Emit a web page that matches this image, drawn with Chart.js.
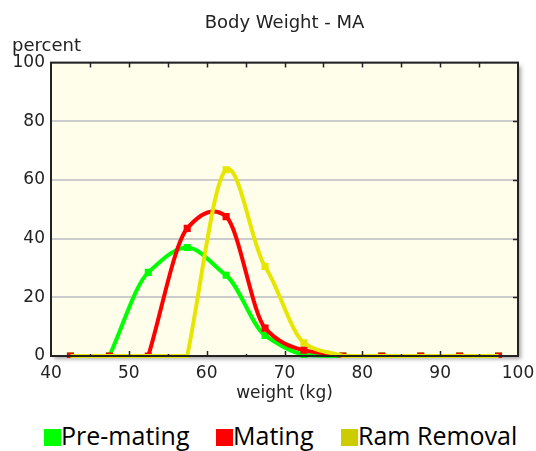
<!DOCTYPE html>
<html>
<head>
<meta charset="utf-8">
<script src="https://cdn.jsdelivr.net/npm/chart.js@4"></script>
<style>
  html, body { margin: 0; padding: 0; background: #fff; }
  #wrap { position: relative; width: 536px; height: 451px; }
  #chart { position: absolute; left: 0; top: 0; }
  .leg { position: absolute; top: 420px; font-family: "Open Sans", sans-serif; font-size: 25px; color: #000; white-space: nowrap; line-height: 30px; }
  .leg i { display: inline-block; width: 17px; height: 17px; vertical-align: -1px; }
</style>
</head>
<body>
<div id="wrap">
  <canvas id="chart" width="536" height="410"></canvas>
  <div class="leg" style="left:44px"><i style="background:#00ff00"></i>Pre-mating</div>
  <div class="leg" style="left:216px"><i style="background:#ff0000"></i>Mating</div>
  <div class="leg" style="left:341px"><i style="background:#cccc00"></i>Ram Removal</div>
</div>
<script>
// bin centres (kg) and percent of flock in each bin
const weights    = [42.5, 47.5, 52.5, 57.5, 62.5, 67.5, 72.5, 77.5, 82.5, 87.5, 92.5, 97.5];
const preMating  = [0, 0, 28.5, 37, 27.5, 7, 0.5, 0, 0, 0, 0, 0];
const mating     = [0, 0, 0, 43.5, 47.5, 9.5, 2, 0, 0, 0, 0, 0];
const ramRemoval = [0, 0, 0, 0, 63.5, 30.5, 4.5, 0, 0, 0, 0, 0];
const xTicks = [40, 50, 60, 70, 80, 90, 100];
const yTicks = [0, 20, 40, 60, 80, 100];

const font = { family: 'DejaVu Sans', size: 17, weight: 'normal' };
const bigFont = { family: 'DejaVu Sans', size: 18, weight: 'normal' };

function toPoints(vals) {
    return weights.map((w, i) => ({ x: w, y: vals[i] }));
}

function series(label, vals, color, order) {
    return {
        label: label,
        data: toPoints(vals),
        order: order,
        borderColor: color,
        backgroundColor: color,
        borderWidth: 4,
        pointRadius: 5,
        pointStyle: 'rect',
        pointBorderWidth: 0,
        tension: 0.35,
        clip: { left: 6, right: 6, top: 6, bottom: 2 },
        fill: false
    };
}

const ramSeries = series('Ram Removal', ramRemoval, '#e6e600', 1);
// ram removal markers on the zero line are not drawn in the original
ramSeries.pointRadius = c => (c.raw && c.raw.y > 0 ? 5 : 0);

// the original uses a cardinal spline (uniform in x) that leaves the zero
// line in a straight kink; swap chart.js' control points for those
const cardinal = {
    id: 'cardinal',
    beforeDatasetDraw(chart, args) {
        const line = args.meta.dataset;
        if (!line) return;
        line.updateControlPoints(chart.chartArea, 'x');
        const pts = line.points;
        const raw = chart.data.datasets[args.index].data;
        const n = pts.length;
        const k = 0.65;
        const chord = (i, j) => (pts[j].y - pts[i].y) / (pts[j].x - pts[i].x);
        const central = i => k * chord(Math.max(i - 1, 0), Math.min(i + 1, n - 1));
        // slope of the handle at point i pointing towards neighbour j
        const handle = (i, j) => (raw[i].y === 0 ? chord(i, j) : central(i));
        for (let i = 0; i < n - 1; i++) {
            const p = pts[i], q = pts[i + 1], h = q.x - p.x;
            p.cp2x = p.x + h / 3; p.cp2y = p.y + handle(i, i + 1) * h / 3;
            q.cp1x = q.x - h / 3; q.cp1y = q.y - handle(i + 1, i) * h / 3;
        }
        delete line._path;
    }
};

// plot background with a soft drop shadow, frame and inward tick marks
const plotFrame = {
    id: 'plotFrame',
    beforeDraw(chart) {
        const { ctx, chartArea: a } = chart;
        ctx.save();
        ctx.shadowColor = 'rgba(0,0,0,0.35)';
        ctx.shadowBlur = 4;
        ctx.shadowOffsetX = 3;
        ctx.shadowOffsetY = 3;
        ctx.fillStyle = '#fffeea';
        ctx.fillRect(a.left, a.top, a.right - a.left, a.bottom - a.top);
        ctx.restore();
    },
    afterDraw(chart) {
        const { ctx, chartArea: a, scales } = chart;
        ctx.save();
        ctx.strokeStyle = '#222';
        ctx.lineWidth = 1.5;
        ctx.beginPath();
        for (let v = 45; v < 100; v += 5) {
            const px = Math.round(scales.x.getPixelForValue(v)) + 0.5;
            const len = v % 10 === 0 ? 5 : 2;
            ctx.moveTo(px, a.bottom); ctx.lineTo(px, a.bottom - len);
            ctx.moveTo(px, a.top); ctx.lineTo(px, a.top + 5);
        }
        for (let v = 20; v < 100; v += 20) {
            const py = Math.round(scales.y.getPixelForValue(v)) + 0.5;
            ctx.moveTo(a.right, py); ctx.lineTo(a.right - 5, py);
        }
        ctx.stroke();
        ctx.lineWidth = 2;
        ctx.strokeRect(a.left, a.top, a.right - a.left, a.bottom - a.top);
        // y axis caption sits above the axis
        ctx.fillStyle = '#222';
        ctx.font = "18px 'DejaVu Sans'";
        ctx.textBaseline = 'alphabetic';
        ctx.textAlign = 'left';
        ctx.fillText('percent', 12, 51);
        ctx.restore();
    }
};

new Chart(document.getElementById('chart'), {
    type: 'line',
    data: {
        datasets: [
            series('Pre-mating', preMating, '#00ff00', 3),
            series('Mating', mating, '#ff0000', 2),
            ramSeries
        ]
    },
    options: {
        responsive: false,
        animation: false,
        elements: { line: { capBezierPoints: false } },
        layout: { padding: { top: 0, left: 0, right: 18, bottom: 0 } },
        plugins: {
            legend: { display: false },
            tooltip: { enabled: false },
            title: {
                display: true,
                text: 'Body Weight - MA',
                fullSize: false,
                color: '#222',
                font: bigFont,
                padding: { top: 13, bottom: 28 }
            }
        },
        scales: {
            x: {
                type: 'linear',
                min: 40,
                max: 100,
                afterBuildTicks(s) { s.ticks = xTicks.map(v => ({ value: v })); },
                afterFit(s) { s.height = 54; s.paddingLeft = 0; s.paddingRight = 0; },
                grid: { display: false, drawTicks: false },
                border: { display: false },
                ticks: { color: '#222', font: font, padding: 7, maxRotation: 0 },
                title: { display: true, text: 'weight (kg)', color: '#222', font: font, padding: { top: 0, bottom: 6 } }
            },
            y: {
                min: 0,
                max: 100,
                afterBuildTicks(s) { s.ticks = yTicks.map(v => ({ value: v })); },
                afterFit(s) { s.width = 51; s.paddingTop = 0; s.paddingBottom = 0; },
                grid: { color: '#cccccc', lineWidth: 2, drawTicks: false },
                border: { display: false },
                ticks: { color: '#222', font: font, padding: 6 }
            }
        }
    },
    plugins: [cardinal, plotFrame]
});
</script>
</body>
</html>
